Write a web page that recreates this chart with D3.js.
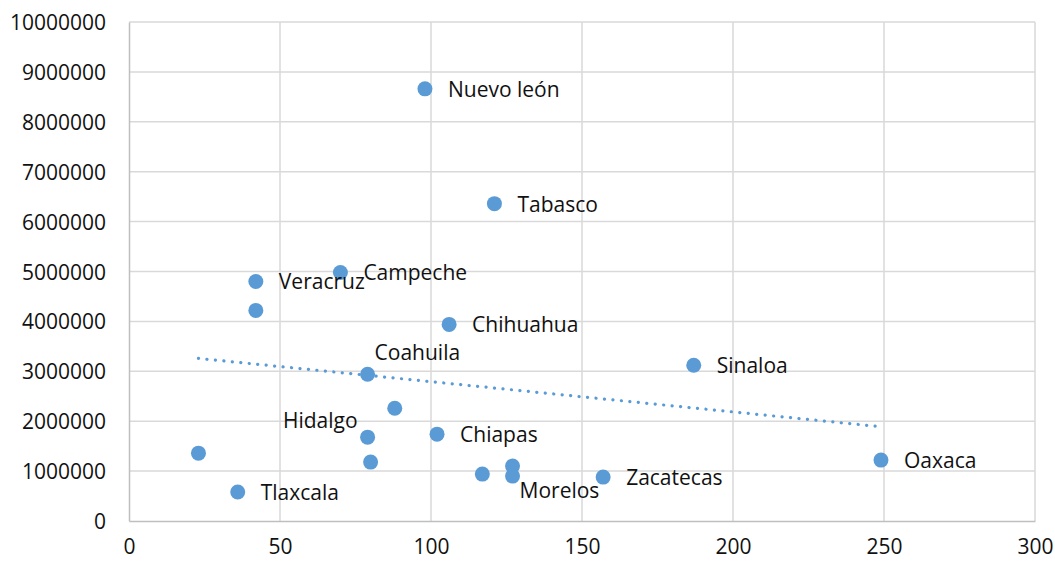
<!DOCTYPE html>
<html>
<head>
<meta charset="utf-8">
<script src="https://cdn.jsdelivr.net/npm/d3@7"></script>
<style>
    body { margin: 0; background: #fff; }
    text { font-family: "Open Sans", sans-serif; fill: #111; }
</style>
</head>
<body>
<div id="chart"></div>
<script>
const WIDTH = 1055;
const HEIGHT = 561;

// data
const states = ['Nuevo león', 'Tabasco', 'Campeche', 'Veracruz', '', 'Chihuahua', 'Coahuila', 'Sinaloa', '',
    'Hidalgo', 'Chiapas', '', '', 'Tlaxcala', '', '', 'Morelos', 'Zacatecas', 'Oaxaca'];
const xValues = [98, 121, 70, 42, 42, 106, 79, 187, 88, 79, 102, 80, 23, 36, 117, 127, 127, 157, 249];
const yValues = [8660000, 6360000, 4980000, 4800000, 4220000, 3940000, 2940000, 3120000, 2260000,
    1680000, 1740000, 1180000, 1360000, 580000, 940000, 1100000, 900000, 880000, 1220000];
const xTicks = [0, 50, 100, 150, 200, 250, 300];
const yTicks = [0, 1000000, 2000000, 3000000, 4000000, 5000000, 6000000, 7000000, 8000000, 9000000, 10000000];

// where the label sits next to its point (default is to the right)
const labelOffsets = {
    'Coahuila': { dx: 7, dy: -14, anchor: 'start' },
    'Hidalgo': { dx: -10, dy: -9, anchor: 'end' },
    'Morelos': { dx: 7, dy: 22, anchor: 'start' }
};

const margin = { top: 22, right: 20, bottom: 40, left: 129 };
const width = WIDTH - margin.left - margin.right;
const height = HEIGHT - margin.top - margin.bottom;

const points = states.map((name, i) => ({ name: name, x: xValues[i], y: yValues[i] }));

const svg = d3.select('#chart').append('svg')
    .attr('width', WIDTH)
    .attr('height', HEIGHT);

const g = svg.append('g')
    .attr('transform', `translate(${margin.left}, ${margin.top})`);

const x = d3.scaleLinear().domain([0, 300]).range([0, width]);
const y = d3.scaleLinear().domain([0, 10000000]).range([height, 0]);

// gridlines
g.selectAll('.vgrid').data(xTicks.slice(1)).enter().append('line')
    .attr('x1', d => x(d)).attr('x2', d => x(d))
    .attr('y1', 0).attr('y2', height)
    .attr('stroke', '#d9d9d9').attr('stroke-width', 1.5);
g.selectAll('.hgrid').data(yTicks.slice(1)).enter().append('line')
    .attr('x1', 0).attr('x2', width)
    .attr('y1', d => y(d)).attr('y2', d => y(d))
    .attr('stroke', '#d9d9d9').attr('stroke-width', 1.5);

// axes
const xAxis = d3.axisBottom(x).tickValues(xTicks).tickSize(0).tickPadding(24).tickFormat(d3.format('d'));
const yAxis = d3.axisLeft(y).tickValues(yTicks).tickSize(0).tickPadding(23).tickFormat(d3.format('d'));

g.append('g').attr('transform', `translate(0, ${height})`).call(xAxis)
    .call(a => a.select('.domain').attr('stroke', '#bfbfbf').attr('stroke-width', 1.5))
    .selectAll('text').attr('font-size', 21).attr('dy', '0.45em');
g.append('g').call(yAxis)
    .call(a => a.select('.domain').attr('stroke', '#bfbfbf').attr('stroke-width', 1.5))
    .selectAll('text').attr('font-size', 21).attr('dy', '0.36em');

// linear trendline (least squares)
const mx = d3.mean(xValues), my = d3.mean(yValues);
const slope = d3.sum(points, p => (p.x - mx) * (p.y - my)) / d3.sum(points, p => (p.x - mx) * (p.x - mx));
const intercept = my - slope * mx;
const ext = d3.extent(xValues);
g.append('path')
    .datum(ext.map(v => [v, intercept + slope * v]))
    .attr('d', d3.line().x(d => x(d[0])).y(d => y(d[1])))
    .attr('fill', 'none')
    .attr('stroke', '#5b9bd5')
    .attr('stroke-width', 3.2)
    .attr('stroke-linecap', 'round')
    .attr('stroke-dasharray', '0.1 8.4');

// points
g.selectAll('.dot').data(points).enter().append('circle')
    .attr('class', 'dot')
    .attr('cx', d => x(d.x))
    .attr('cy', d => y(d.y))
    .attr('r', 7.5)
    .attr('fill', '#5b9bd5');

// labels
g.selectAll('.label').data(points.filter(p => p.name !== '')).enter().append('text')
    .attr('class', 'label')
    .attr('font-size', 21)
    .attr('x', d => x(d.x) + (labelOffsets[d.name] ? labelOffsets[d.name].dx : 23))
    .attr('y', d => y(d.y) + (labelOffsets[d.name] ? labelOffsets[d.name].dy : 8))
    .attr('text-anchor', d => labelOffsets[d.name] ? labelOffsets[d.name].anchor : 'start')
    .text(d => d.name);
</script>
</body>
</html>
